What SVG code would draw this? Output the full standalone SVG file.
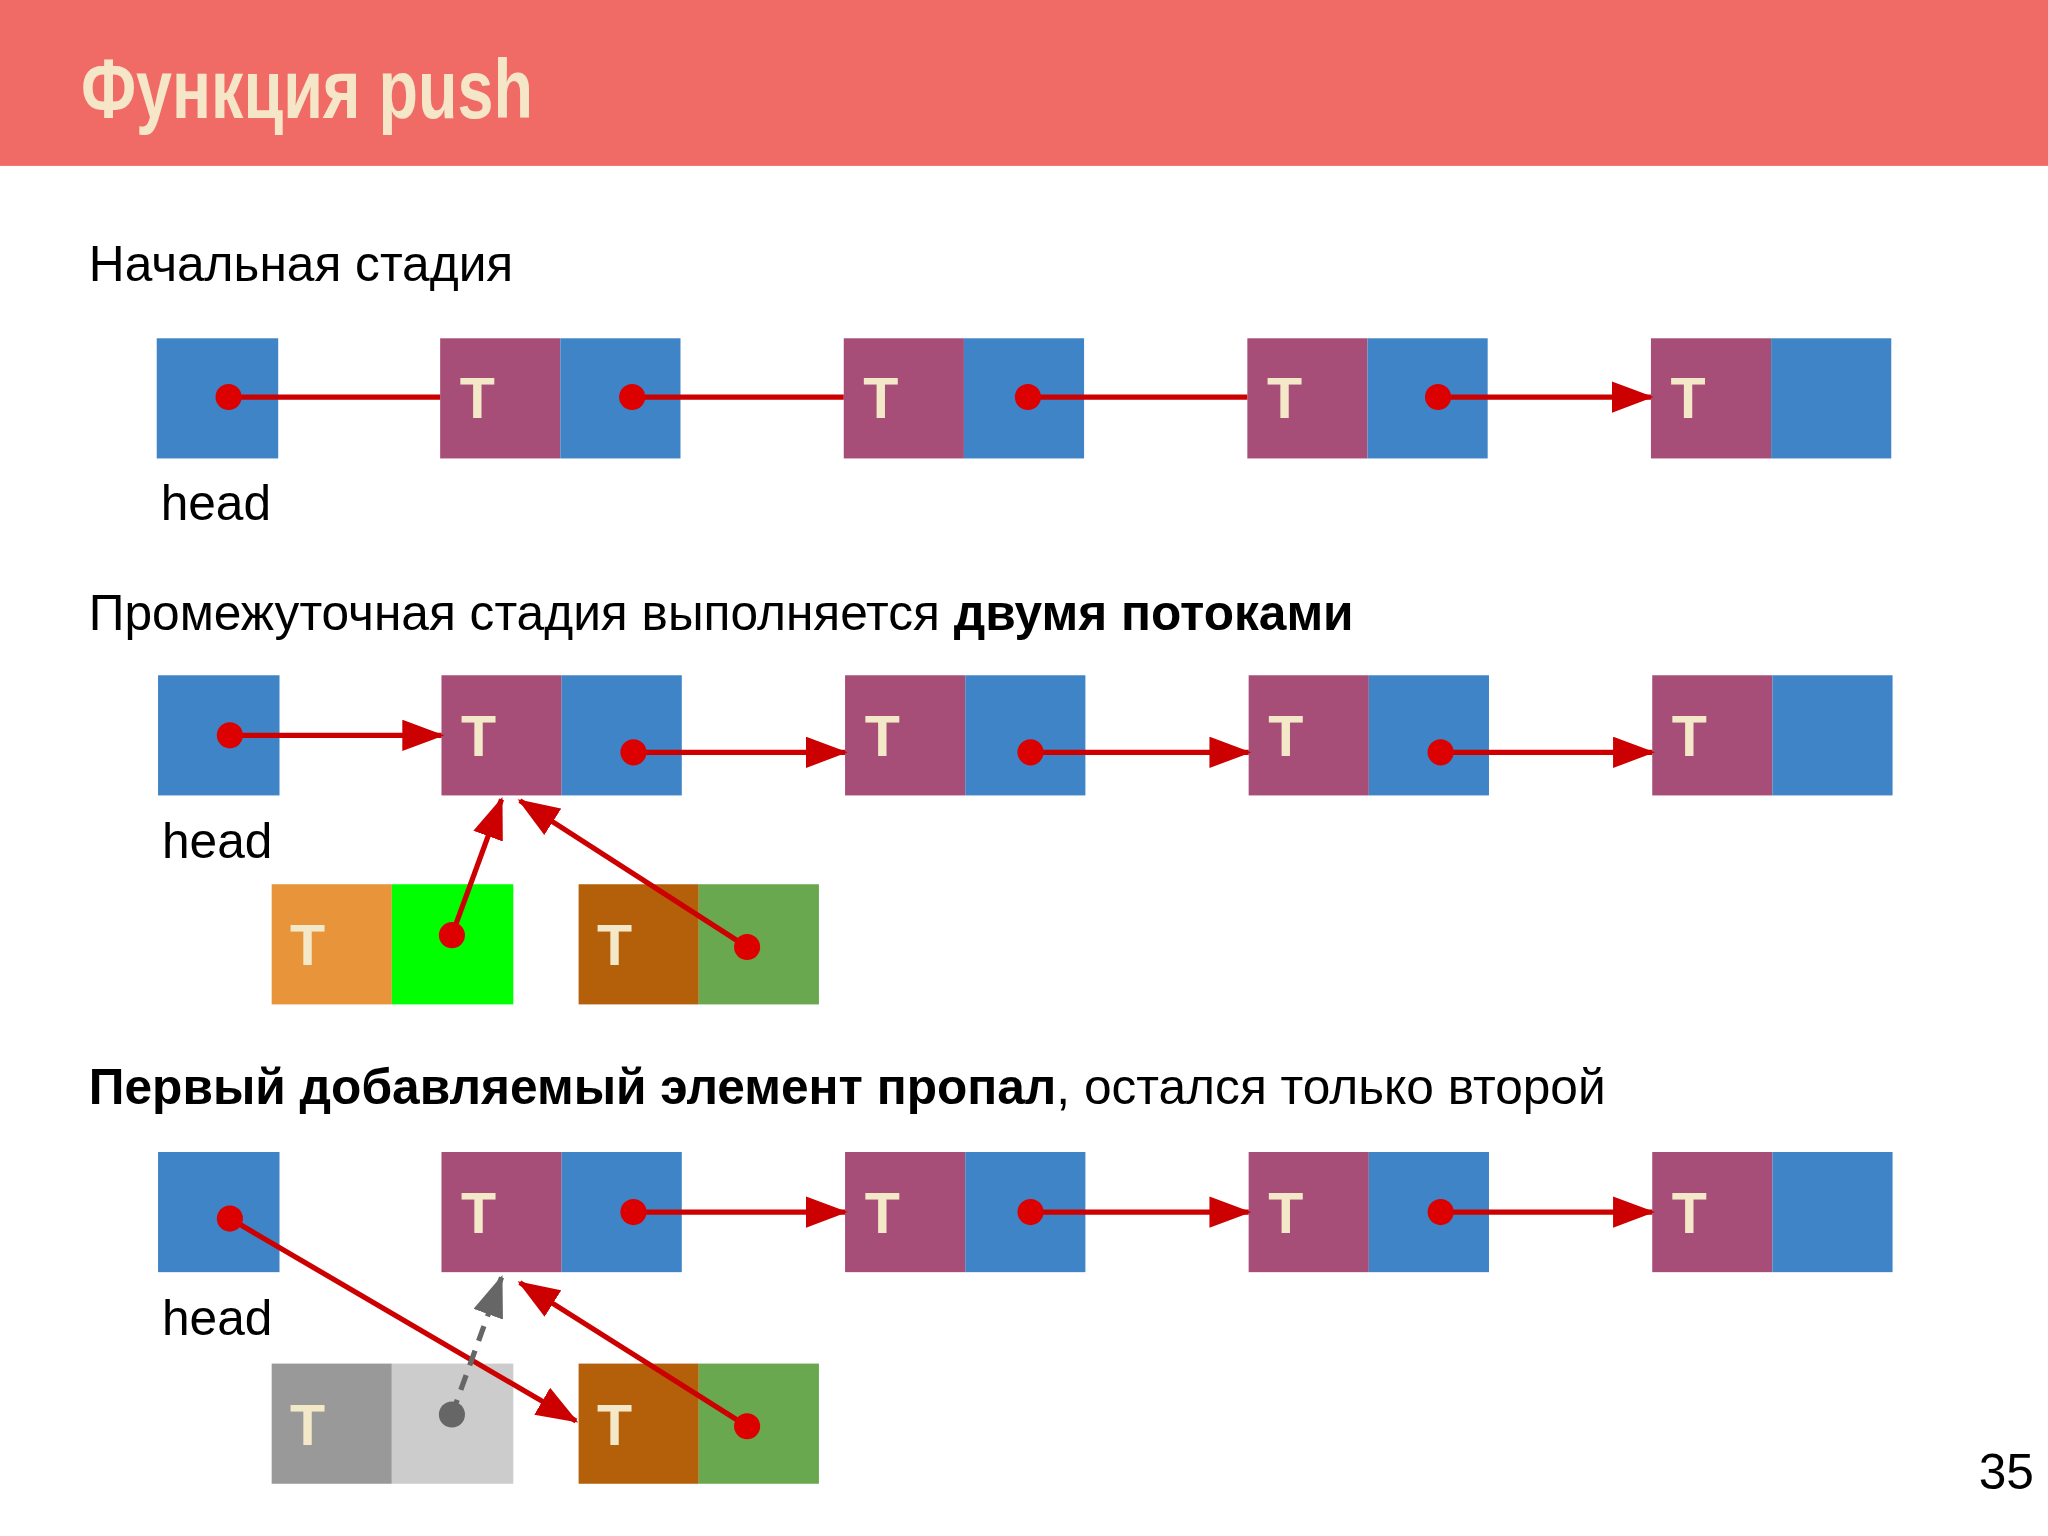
<svg xmlns="http://www.w3.org/2000/svg" width="2048" height="1536" viewBox="0 0 2048 1536">
<defs>
<style>
.b{fill:#3f84c6}.p{fill:#a64d78}.t{font-family:"Liberation Sans",Arial,sans-serif;font-weight:bold;font-size:44px;fill:#f3e9c8}
.lab{font-family:"Liberation Sans",Arial,sans-serif;font-size:38px;fill:#000}
.ln{stroke:#cc0000;stroke-width:4;fill:none}
.dot{fill:#dd0000}
</style>
<marker id="ah" markerUnits="userSpaceOnUse" markerWidth="32" markerHeight="24" refX="30" refY="12" orient="auto"><path d="M0,0 L32,12 L0,24 Z" fill="#cc0000"/></marker>
<marker id="ag" markerUnits="userSpaceOnUse" markerWidth="32" markerHeight="24" refX="30" refY="12" orient="auto"><path d="M0,0 L32,12 L0,24 Z" fill="#666"/></marker>
</defs>
<rect width="2048" height="1536" fill="#fff"/>
<g transform="scale(1.30612)">
<rect x="0" y="0" width="1568" height="127" fill="#f06a66"/>
<text x="62" y="90" font-family="Liberation Sans,Arial,sans-serif" font-weight="bold" font-size="64" fill="#f5e6c8" textLength="346" lengthAdjust="spacingAndGlyphs">Функция push</text>
<text class="lab" x="68" y="215" font-size="40">Начальная стадия</text>
<text class="lab" x="68" y="482" font-size="40">Промежуточная стадия выполняется <tspan font-weight="bold">двумя потоками</tspan></text>
<text class="lab" x="68" y="845" font-size="40"><tspan font-weight="bold">Первый добавляемый элемент пропал</tspan>, остался только второй</text>
<text class="lab" x="1515" y="1140" font-size="28">35</text>

<g id="row1">
<rect class="b" x="120" y="259" width="93" height="92"/>
<text class="lab" x="123" y="398">head</text>
<rect class="p" x="337" y="259" width="92" height="92"/><rect class="b" x="429" y="259" width="92" height="92"/><text class="t" x="352" y="320">T</text>
<rect class="p" x="646" y="259" width="92" height="92"/><rect class="b" x="738" y="259" width="92" height="92"/><text class="t" x="661" y="320">T</text>
<rect class="p" x="955" y="259" width="92" height="92"/><rect class="b" x="1047" y="259" width="92" height="92"/><text class="t" x="970" y="320">T</text>
<rect class="p" x="1264" y="259" width="92" height="92"/><rect class="b" x="1356" y="259" width="92" height="92"/><text class="t" x="1279" y="320">T</text>
</g>
<g id="row2">
<rect class="b" x="121" y="517" width="93" height="92"/>
<text class="lab" x="124" y="657">head</text>
<rect class="p" x="338" y="517" width="92" height="92"/><rect class="b" x="430" y="517" width="92" height="92"/><text class="t" x="353" y="579">T</text>
<rect class="p" x="647" y="517" width="92" height="92"/><rect class="b" x="739" y="517" width="92" height="92"/><text class="t" x="662" y="579">T</text>
<rect class="p" x="956" y="517" width="92" height="92"/><rect class="b" x="1048" y="517" width="92" height="92"/><text class="t" x="971" y="579">T</text>
<rect class="p" x="1265" y="517" width="92" height="92"/><rect class="b" x="1357" y="517" width="92" height="92"/><text class="t" x="1280" y="579">T</text>
<rect x="208" y="677" width="92" height="92" fill="#e8943a"/><rect x="300" y="677" width="93" height="92" fill="#00ff00"/><text class="t" x="222" y="739">T</text>
<rect x="443" y="677" width="92" height="92" fill="#b45f0a"/><rect x="535" y="677" width="92" height="92" fill="#6aa84f"/><text class="t" x="457" y="739">T</text>
</g>
<g id="row3">
<rect class="b" x="121" y="882" width="93" height="92"/>
<text class="lab" x="124" y="1022">head</text>
<rect class="p" x="338" y="882" width="92" height="92"/><rect class="b" x="430" y="882" width="92" height="92"/><text class="t" x="353" y="944">T</text>
<rect class="p" x="647" y="882" width="92" height="92"/><rect class="b" x="739" y="882" width="92" height="92"/><text class="t" x="662" y="944">T</text>
<rect class="p" x="956" y="882" width="92" height="92"/><rect class="b" x="1048" y="882" width="92" height="92"/><text class="t" x="971" y="944">T</text>
<rect class="p" x="1265" y="882" width="92" height="92"/><rect class="b" x="1357" y="882" width="92" height="92"/><text class="t" x="1280" y="944">T</text>
<rect x="208" y="1044" width="92" height="92" fill="#999999"/><rect x="300" y="1044" width="93" height="92" fill="#cccccc"/><text class="t" x="222" y="1106">T</text>
<rect x="443" y="1044" width="92" height="92" fill="#b45f0a"/><rect x="535" y="1044" width="92" height="92" fill="#6aa84f"/><text class="t" x="457" y="1106">T</text>
</g>
<g id="connectors">
<path class="ln" marker-end="url(#ah)" d="M175,304H337M484,304H646M787,304H955M1101,304H1264"/>
<path class="ln" marker-end="url(#ah)" d="M176,563H338"/>
<path class="ln" marker-end="url(#ah)" d="M485,576H647"/>
<path class="ln" marker-end="url(#ah)" d="M789,576H956"/>
<path class="ln" marker-end="url(#ah)" d="M1103,576H1265"/>
<path class="ln" marker-end="url(#ah)" d="M346,716L384,612"/>
<path class="ln" marker-end="url(#ah)" d="M572,725L398,613"/>
<path class="ln" marker-end="url(#ah)" d="M176,933L441,1088"/>
<path class="ln" marker-end="url(#ah)" d="M485,928H647"/>
<path class="ln" marker-end="url(#ah)" d="M789,928H956"/>
<path class="ln" marker-end="url(#ah)" d="M1103,928H1265"/>
<path class="ln" marker-end="url(#ah)" d="M572,1092L398,982"/>
<path stroke="#666" stroke-width="4" stroke-dasharray="12,8" fill="none" marker-end="url(#ag)" d="M346,1083L384,978"/>
<g class="dot">
<circle cx="175" cy="304" r="10"/><circle cx="484" cy="304" r="10"/><circle cx="787" cy="304" r="10"/><circle cx="1101" cy="304" r="10"/>
<circle cx="176" cy="563" r="10"/><circle cx="485" cy="576" r="10"/><circle cx="789" cy="576" r="10"/><circle cx="1103" cy="576" r="10"/>
<circle cx="346" cy="716" r="10"/><circle cx="572" cy="725" r="10"/>
<circle cx="176" cy="933" r="10"/><circle cx="485" cy="928" r="10"/><circle cx="789" cy="928" r="10"/><circle cx="1103" cy="928" r="10"/>
<circle cx="572" cy="1092" r="10"/>
</g>
<circle cx="346" cy="1083" r="10" fill="#666"/>
</g>
</g>
</svg>
